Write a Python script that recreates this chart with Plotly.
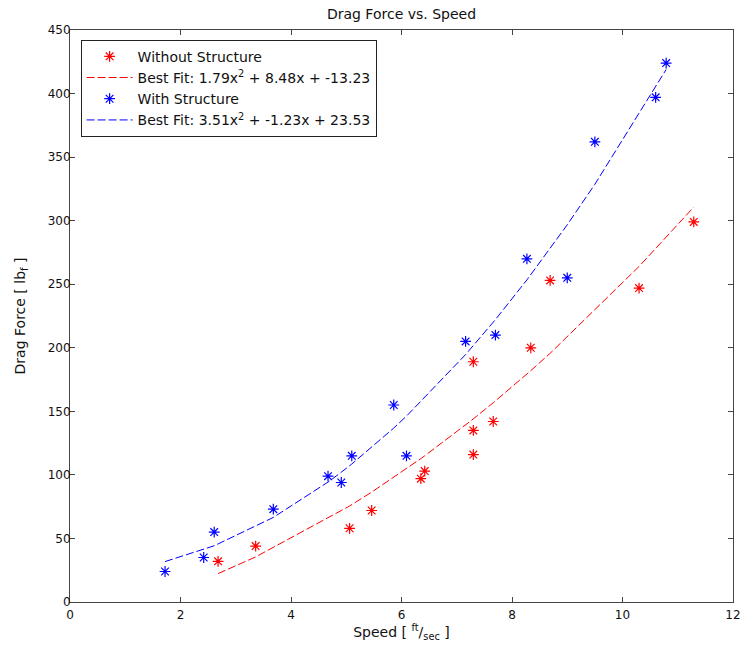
import numpy as np
import plotly.graph_objects as go

# Measured drag force, bare hull
speed_without = [2.68, 3.36, 5.06, 5.46, 6.35, 6.42, 7.30, 7.30, 7.30, 7.66, 8.34, 8.69, 10.30, 11.29]
force_without = [32, 44, 58, 72, 97, 103, 116, 135, 189, 142, 200, 253, 247, 299]

# Measured drag force, with structure mounted
speed_with = [1.72, 2.42, 2.61, 3.68, 4.67, 4.91, 5.10, 5.86, 6.09, 7.16, 7.70, 8.27, 9.00, 9.50, 10.60, 10.79]
force_with = [24, 35, 55, 73, 99, 94, 115, 155, 115, 205, 210, 270, 255, 362, 397, 424]

# Quadratic fit coefficients (a, b, c) for a*x^2 + b*x + c
fit_without = [1.79, 8.48, -13.23]
fit_with = [3.51, -1.23, 23.53]


def fit_curve(xs, coeffs):
    xs = np.sort(np.asarray(xs, dtype=float))
    return xs, np.polyval(coeffs, xs)


def fit_label(coeffs):
    a, b, c = coeffs
    return f"Best Fit: {a:.2f}x<sup>2</sup> + {b:.2f}x + {c:.2f}"


RED = "rgb(255,0,0)"
BLUE = "rgb(0,0,255)"
DASH = "8px,3px"
FONT = "DejaVu Sans, Liberation Sans, Arial, sans-serif"
AXIS = "#454545"

fig = go.Figure()

fx, fy = fit_curve(speed_without, fit_without)
gx, gy = fit_curve(speed_with, fit_with)

fig.add_trace(go.Scatter(
    x=speed_without, y=force_without, mode="markers", name="Without Structure",
    legendgroup="a",
    marker=dict(symbol="asterisk-open", size=9, color=RED, line=dict(color=RED, width=1.2)),
))
fig.add_trace(go.Scatter(
    x=fx, y=fy, mode="lines", name=fit_label(fit_without), legendgroup="b",
    line=dict(color=RED, width=1, dash=DASH),
))
fig.add_trace(go.Scatter(
    x=speed_with, y=force_with, mode="markers", name="With Structure",
    legendgroup="c",
    marker=dict(symbol="asterisk-open", size=9, color=BLUE, line=dict(color=BLUE, width=1.2)),
))
fig.add_trace(go.Scatter(
    x=gx, y=gy, mode="lines", name=fit_label(fit_with), legendgroup="d",
    line=dict(color=BLUE, width=1, dash=DASH),
))

axis_common = dict(
    showgrid=False, zeroline=False, showline=True, linecolor=AXIS, linewidth=1,
    mirror="ticks", ticks="inside", ticklen=5, tickcolor=AXIS,
    ticklabeloverflow="allow",
    tickfont=dict(family=FONT, size=12, color="#111"),
)

fig.update_layout(
    width=748, height=660,
    margin=dict(l=70, r=7, t=30, b=58),
    paper_bgcolor="white", plot_bgcolor="white",
    font=dict(family=FONT, size=14, color="#111"),
    title=dict(text="Drag Force vs. Speed", x=0.5, xref="paper", y=0.979, yanchor="middle",
               font=dict(size=14)),
    xaxis=dict(range=[0, 12], dtick=2, tick0=0, ticklabelstandoff=2,
               title=dict(text="Speed [ <sup>ft</sup>/<sub>sec</sub> ]", standoff=4,
                          font=dict(size=14)),
               **axis_common),
    yaxis=dict(range=[0, 450], dtick=50, tick0=0, ticklabelstandoff=-4,
               title=dict(text="Drag Force [ lb<sub>f</sub> ]", standoff=18,
                          font=dict(size=14)),
               **axis_common),
    legend=dict(
        x=0.016, y=0.983, xanchor="left", yanchor="top",
        bgcolor="white", bordercolor="#222", borderwidth=1,
        font=dict(size=14), itemwidth=46, tracegroupgap=5,
        traceorder="normal",
    ),
    showlegend=True,
)

fig.write_html("out.html")
